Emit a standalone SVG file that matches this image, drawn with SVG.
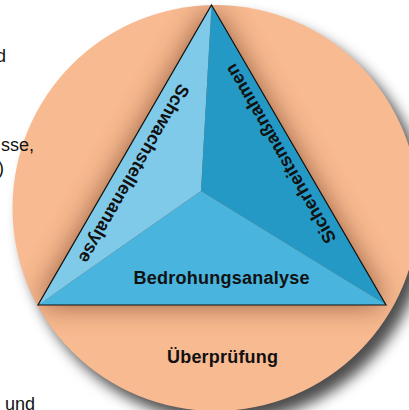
<svg xmlns="http://www.w3.org/2000/svg" width="409" height="410" viewBox="0 0 409 410">
  <style>
    .lbl { font-family: "Liberation Sans", Arial, sans-serif; font-weight: bold; font-size: 18px; fill: #111; }
    .frag { font-family: "Liberation Sans", Arial, sans-serif; font-size: 18px; fill: #111; }
    .edge { fill: none; stroke: #111; stroke-width: 1.2; stroke-linejoin: miter; }
  </style>
  <defs>
    <filter id="dropShadow" x="-20%" y="-20%" width="150%" height="150%">
      <feGaussianBlur in="SourceAlpha" stdDeviation="7"/>
      <feOffset dx="9" dy="11" result="b"/>
      <feFlood flood-color="#000" flood-opacity="0.7"/>
      <feComposite in2="b" operator="in"/>
    </filter>
    <filter id="soft" x="-30%" y="-30%" width="160%" height="160%">
      <feGaussianBlur stdDeviation="14"/>
    </filter>
    <clipPath id="circleClip">
      <circle cx="215.5" cy="208" r="203"/>
    </clipPath>
  </defs>

  <rect width="409" height="410" fill="#fff"/>

  <!-- circle (Überprüfung) -->
  <g id="circle">
    <circle cx="215.5" cy="208" r="203" fill="#000" filter="url(#dropShadow)"/>
    <circle cx="215.5" cy="208" r="203" fill="#f8ba91"/>
    <g clip-path="url(#circleClip)">
      <polygon points="211.5,5 38,305 386,305" fill="#7a4426" opacity="0.8" filter="url(#soft)"/>
    </g>
    <text class="lbl" x="222.5" y="362.5" text-anchor="middle" textLength="111" lengthAdjust="spacing">Überprüfung</text>
  </g>

  <!-- pyramid faces -->
  <g id="face-left">
    <polygon points="211.5,5 201,191 38,305" fill="#7fcae9"/>
    <text class="lbl" transform="translate(133.5,173.5) rotate(120)" x="0" y="5.6" text-anchor="middle" textLength="203" lengthAdjust="spacing">Schwachstellenanalyse</text>
  </g>
  <g id="face-right">
    <polygon points="211.5,5 386,305 201,191" fill="#2499c5"/>
    <text class="lbl" transform="translate(281,153.5) rotate(-120)" x="0" y="5.6" text-anchor="middle" textLength="204" lengthAdjust="spacing">Sicherheitsmaßnahmen</text>
  </g>
  <g id="face-bottom">
    <polygon points="201,191 386,305 38,305" fill="#49b4dd"/>
    <text class="lbl" x="221.5" y="284.3" text-anchor="middle" textLength="176" lengthAdjust="spacing">Bedrohungsanalyse</text>
  </g>
  <g id="outline">
    <polygon class="edge" points="211.5,5 386,305 38,305"/>
  </g>

  <!-- clipped text fragments at left border (drawn over the circle) -->
  <g id="fragments">
    <text class="frag" x="6" y="62" text-anchor="end">d</text>
    <text class="frag" x="34" y="151" text-anchor="end">sse,</text>
    <text class="frag" x="4" y="174" text-anchor="end">)</text>
    <text class="frag" x="35" y="410" text-anchor="end">und</text>
  </g>
</svg>
